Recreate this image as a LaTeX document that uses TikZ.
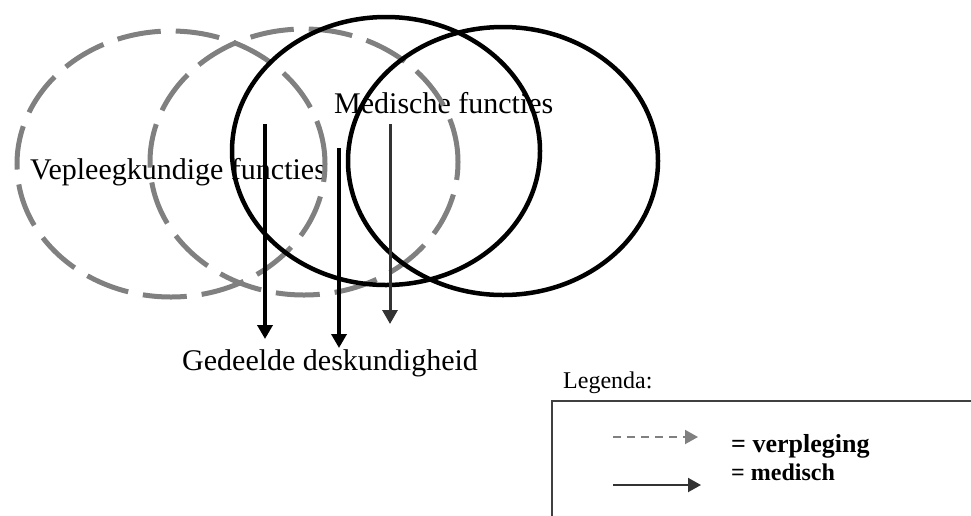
\documentclass[tikz,border=0pt]{standalone}
\usepackage{fontspec}
\setmainfont{Liberation Serif}
\usetikzlibrary{arrows.meta}
\definecolor{nursegray}{HTML}{808080}
\definecolor{darkarrow}{HTML}{333333}
\definecolor{boxgray}{HTML}{404040}
\begin{document}
\begin{tikzpicture}[x=1pt,y=-1pt,
  lbl/.style={inner sep=0pt, anchor=base west, font=\fontsize{30}{36}\selectfont},
  leglbl/.style={inner sep=0pt, anchor=base west, font=\fontsize{24}{28}\selectfont},
  nurse/.style={draw=nursegray, line width=5pt, dash pattern=on 44pt off 15pt},
  med/.style={draw=black, line width=4.5pt},
  bigarrow/.style={line width=4pt, -{Triangle[width=15pt,length=14pt]}},
  legarrowd/.style={draw=nursegray, line width=2pt, dash pattern=on 8pt off 6pt, -{Triangle[width=14pt,length=13pt]}},
  legarrows/.style={draw=darkarrow, line width=2pt, -{Triangle[width=14pt,length=13pt]}},
  legbox/.style={draw=boxgray, line width=1.5pt}
]
\useasboundingbox (0,0) rectangle (971,515);
\clip (0,0) rectangle (971,515);
% texts
\node[lbl] (vep) at (30,179) {Vepleegkundige functies};
\node[lbl] (med) at (334,113) {Medische functies};
\node[lbl] (ged) at (182,370) {Gedeelde deskundigheid};
\node[leglbl] (leg) at (563,388) {Legenda:};
\node[inner sep=0pt, anchor=base west, font=\fontsize{26}{30}\selectfont\bfseries] (lv) at (731,452) {= verpleging};
\node[inner sep=0pt, anchor=base west, font=\fontsize{24}{28}\selectfont\bfseries] (lm) at (731,480) {= medisch};
% ellipses
\draw[nurse] (171,164) ellipse [x radius=154pt, y radius=133pt];
\draw[nurse] (304,162) ellipse [x radius=154pt, y radius=133pt];
\draw[med] (386,151) ellipse [x radius=154pt, y radius=134pt];
\draw[med] (503,161) ellipse [x radius=155pt, y radius=134pt];
% arrows
\coordinate (a1s) at (265,124); \coordinate (a1e) at (265,339);
\coordinate (a2s) at (339,148); \coordinate (a2e) at (339,348);
\coordinate (a3s) at (390,124); \coordinate (a3e) at (390,324);
\draw[bigarrow, black] (a1s) -- (a1e);
\draw[bigarrow, black] (a2s) -- (a2e);
\draw[bigarrow, darkarrow, line width=3pt] (a3s) -- (a3e);
% legend
\draw[legbox] (552,530) -- (552,401) -- (990,401);
\coordinate (ld1) at (613,437); \coordinate (ld2) at (698,437);
\coordinate (ls1) at (613,485); \coordinate (ls2) at (701,485);
\draw[legarrowd] (ld1) -- (ld2);
\draw[legarrows] (ls1) -- (ls2);
\end{tikzpicture}
\end{document}
